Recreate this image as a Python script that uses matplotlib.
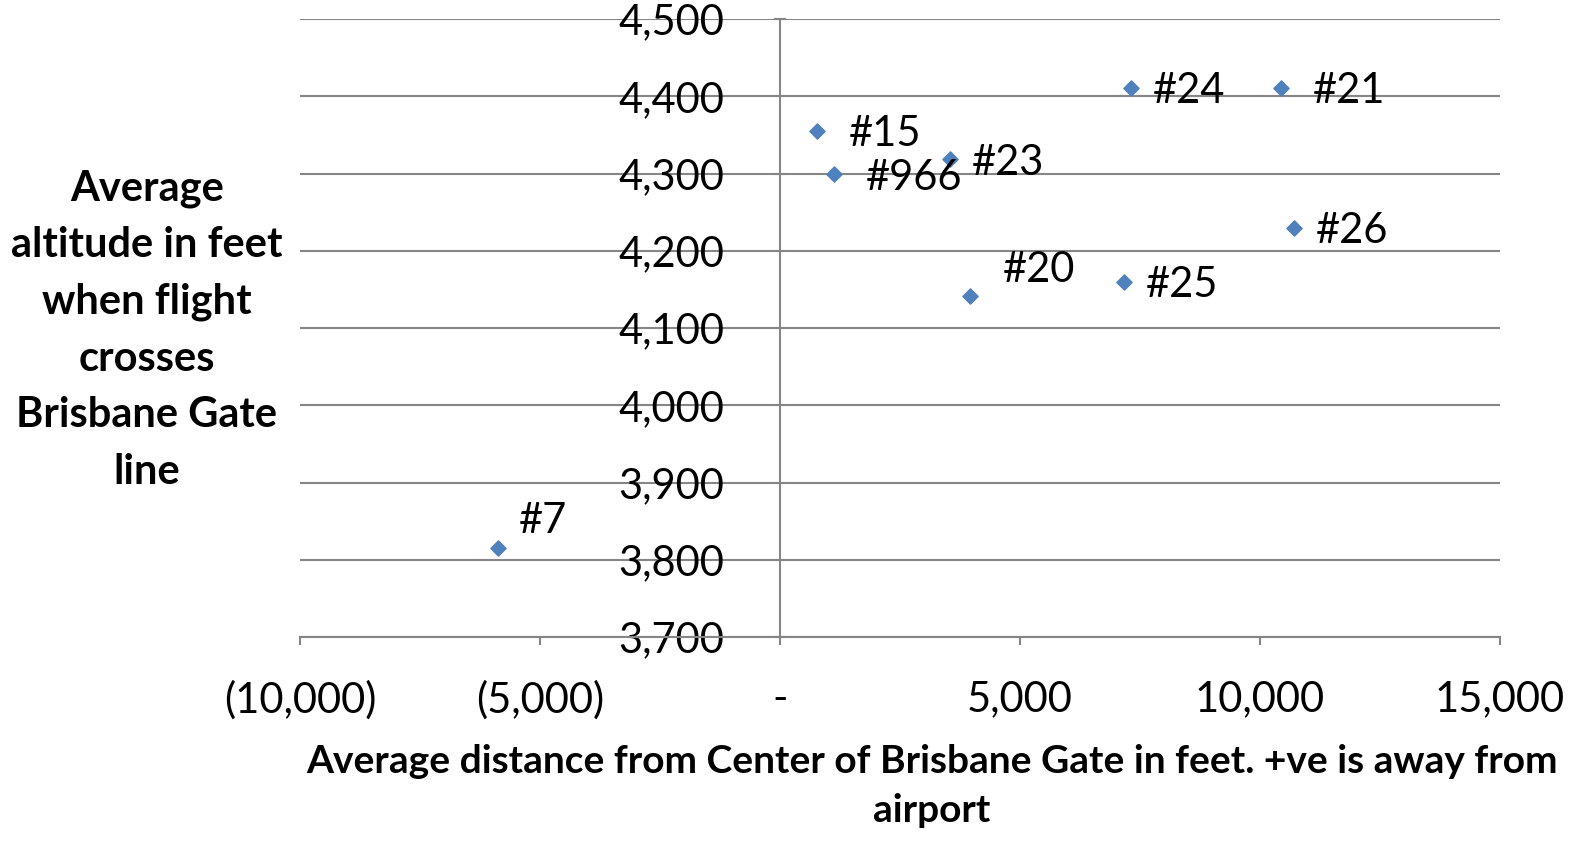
import matplotlib.pyplot as plt
from matplotlib.ticker import FuncFormatter

# Flight data
flights = ['#7', '#15', '#966', '#23', '#24', '#21', '#26', '#20', '#25']
distance = [-5875, 770, 1125, 3540, 7310, 10440, 10710, 3960, 7170]
altitude = [3815, 4355, 4300, 4319, 4411, 4411, 4229, 4141, 4160]

# label offsets in pixels (dx, dy)
offsets = [(21, 27), (32, -3), (32, -4), (22, -4), (22, -3), (32, -3), (22, -3), (33, 26), (22, -3)]

plt.rcParams['font.family'] = ['Lato', 'DejaVu Sans']
grey = '#868686'

fig = plt.figure(figsize=(15.9, 8.41), dpi=100)
ax = fig.add_axes([300 / 1590, 1 - 637 / 841, 1200 / 1590, 618 / 841])

ax.scatter(distance, altitude, marker='D', s=60, color='#4F81BD', zorder=3)

for name, x, y, (dx, dy) in zip(flights, distance, altitude, offsets):
    ax.annotate(name, (x, y), xytext=(dx, dy), textcoords='offset pixels',
                ha='left', va='center', fontsize=30, color='black', zorder=4)

ax.set_xlim(-10000, 15000)
ax.set_ylim(3700, 4500)
ax.set_xticks([-10000, -5000, 0, 5000, 10000, 15000])
ax.set_yticks(range(3700, 4501, 100))


def fmt_x(v, pos):
    if v == 0:
        return '-'
    if v < 0:
        return f'({abs(v):,.0f})'
    return f'{v:,.0f}'


ax.xaxis.set_major_formatter(FuncFormatter(fmt_x))
ax.yaxis.set_major_formatter(FuncFormatter(lambda v, p: f'{v:,.0f}'))

# Excel-style axes: vertical axis crosses at x = 0
ax.spines['left'].set_position(('data', 0))
ax.spines['right'].set_visible(False)
ax.spines['top'].set_visible(False)
for s in ['left', 'bottom']:
    ax.spines[s].set_color(grey)
    ax.spines[s].set_linewidth(1.5)

ax.grid(axis='y', color=grey, linewidth=1.5, zorder=0)
ax.set_axisbelow(True)

ax.tick_params(axis='x', direction='out', length=6, width=1.5, color=grey,
               labelsize=30, pad=25)
ax.tick_params(axis='y', direction='inout', length=8, width=1.5, color=grey,
               labelsize=30, pad=36)
for lbl in ax.get_yticklabels():
    lbl.set_zorder(5)

fig.text(147 / 1590, 1 - 330 / 841,
         'Average\naltitude in feet\nwhen flight\ncrosses\nBrisbane Gate\nline',
         ha='center', va='center', fontsize=30, fontweight='bold', linespacing=1.6)
fig.text(932 / 1590, 1 - 786 / 841,
         'Average distance from Center of Brisbane Gate in feet. +ve is away from\nairport',
         ha='center', va='center', fontsize=28, fontweight='bold', linespacing=1.45)

fig.savefig('out.png', dpi=100)
